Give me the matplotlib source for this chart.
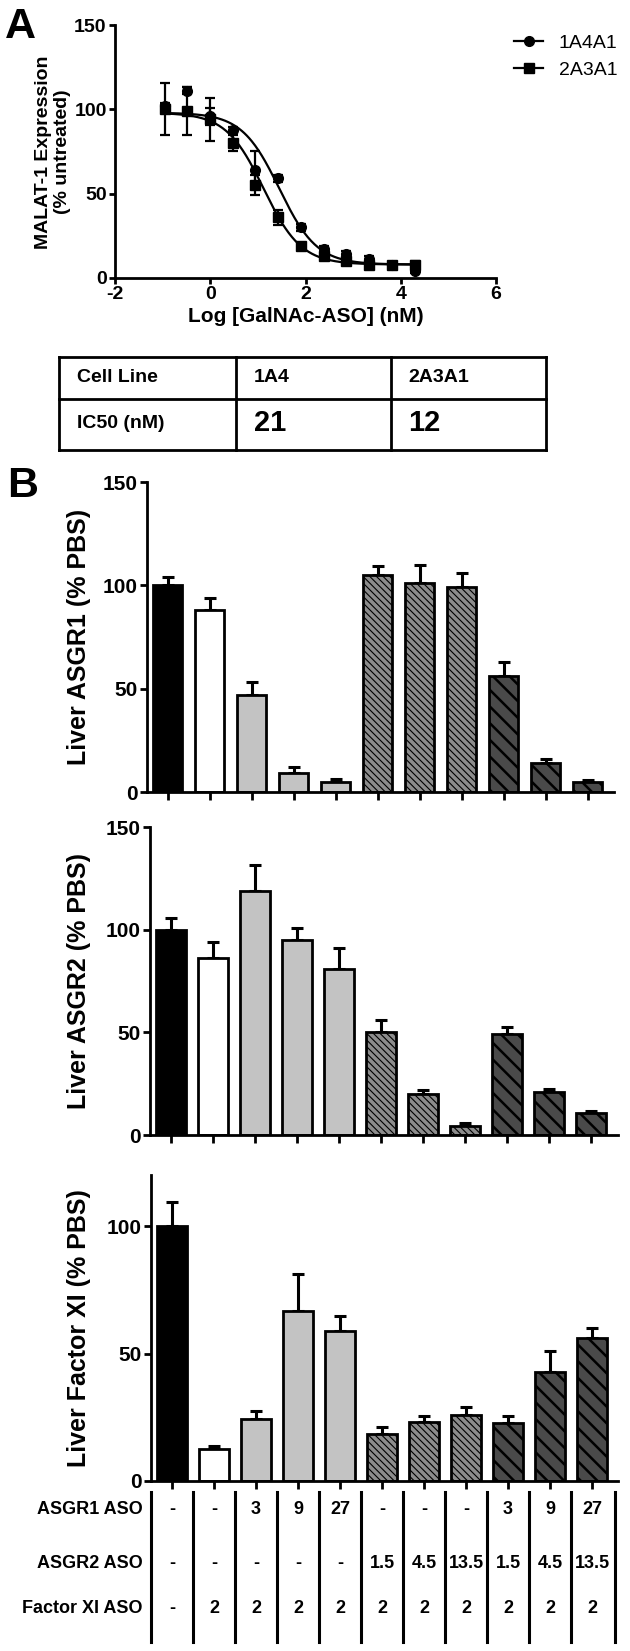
import numpy as np
import matplotlib.pyplot as plt
from matplotlib.lines import Line2D
from matplotlib.transforms import blended_transform_factory

plt.rcParams['font.family'] = ['Liberation Sans', 'DejaVu Sans']
plt.rcParams['font.weight'] = 'bold'
plt.rcParams['axes.unicode_minus'] = False

W, H = 630, 1651

# ---- panel A: MALAT-1 dose response
log_conc = [-0.95, -0.48, 0.0, 0.48, 0.95, 1.43, 1.91, 2.39, 2.86, 3.34, 3.82, 4.29]
mal_1a4a1 = [102, 111, 96, 88, 64, 59, 30, 17, 14, 11, 8, 4]
mal_1a4a1_err = [2, 2, 5, 1.5, 11, 2, 2, 2, 2, 2, 1, 1]
mal_2a3a1 = [100, 99, 94, 80, 55, 36, 19, 13, 10, 8, 8, 8]
mal_2a3a1_err = [15.5, 14, 13, 5, 6, 4.5, 2, 2, 2, 2, 1, 2]
series_names = ['1A4A1', '2A3A1']

# 4-parameter logistic fits (top, bottom, logIC50, hill)
fit_params = [(98, 8, 1.45, 1.1), (98, 8, 1.12, 1.1)]

table_header = ['Cell Line', '1A4', '2A3A1']
table_ic50 = ['IC50 (nM)', '21', '12']

# ---- panel B: liver mRNA (% PBS)
asgr1_vals = [100, 88, 47, 9, 5, 105, 101, 99, 56, 14, 5]
asgr1_err = [4, 6, 6, 3, 1.5, 4.5, 9, 7, 7, 2, 0.8]
asgr2_vals = [100, 86, 119, 95, 81, 50, 20, 4.5, 49, 21, 10.5]
asgr2_err = [5.5, 8, 12.5, 6, 10, 6, 1.7, 1.2, 3.8, 1.4, 1.3]
fxi_vals = [100, 12.6, 24.4, 66.6, 59, 18.4, 23, 25.7, 22.7, 42.9, 56.2]
fxi_err = [9.5, 1.3, 3.1, 14.6, 5.8, 2.6, 2.6, 3.5, 2.6, 8.1, 3.8]

row_names = ['ASGR1 ASO', 'ASGR2 ASO', 'Factor XI ASO']
asgr1_dose = ['-', '-', '3', '9', '27', '-', '-', '-', '3', '9', '27']
asgr2_dose = ['-', '-', '-', '-', '-', '1.5', '4.5', '13.5', '1.5', '4.5', '13.5']
fxi_dose = ['-', '2', '2', '2', '2', '2', '2', '2', '2', '2', '2']

# bar styles
bar_faces = ['black', 'white'] + ['#c3c3c3'] * 3 + ['#8c8c8c'] * 3 + ['#4a4a4a'] * 3
bar_hatches = [None, None, None, None, None] + ['\\\\\\\\\\'] * 3 + ['\\\\'] * 3
hatch_lws = [1, 1, 1, 1, 1] + [0.8] * 3 + [1.8] * 3


def add_axes_px(left, top, right, bottom):
    return fig.add_axes([left / W, 1 - bottom / H, (right - left) / W, (bottom - top) / H])


def fx(px):
    return px / W


def fy(py):
    return 1 - py / H


fig = plt.figure(figsize=(6.3, 16.51), dpi=100)

# ================= Panel A =================
axA = add_axes_px(115, 25, 496, 278)
xs = np.linspace(min(log_conc), max(log_conc), 300)
for (top, bot, lic, hill) in fit_params:
    axA.plot(xs, bot + (top - bot) / (1 + 10 ** ((xs - lic) * hill)), color='black', lw=1.6, zorder=2)
axA.errorbar(log_conc, mal_1a4a1, yerr=mal_1a4a1_err, fmt='o', color='black', ms=7,
             capsize=3.5, elinewidth=1.6, capthick=1.6, zorder=3)
axA.errorbar(log_conc, mal_2a3a1, yerr=mal_2a3a1_err, fmt='s', color='black', ms=6.5,
             capsize=3.5, elinewidth=1.6, capthick=1.6, zorder=3)
axA.set_xlim(-2, 6)
axA.set_ylim(0, 150)
axA.set_xticks([-2, 0, 2, 4, 6])
axA.set_yticks([0, 50, 100, 150])
for s in ['top', 'right']:
    axA.spines[s].set_visible(False)
for s in ['left', 'bottom']:
    axA.spines[s].set_linewidth(2)
axA.tick_params(direction='out', length=4, width=2, labelsize=14, pad=2)
axA.set_xlabel('Log [GalNAc-ASO] (nM)', fontsize=15, fontweight='bold', labelpad=3)
fig.text(fx(53), fy(152), 'MALAT-1 Expression\n(% untreated)', rotation=90, ha='center',
         va='center', fontsize=14, fontweight='bold', multialignment='center', linespacing=1.1)

handles = [Line2D([], [], color='black', marker='o', lw=1.6, ms=7),
           Line2D([], [], color='black', marker='s', lw=1.6, ms=6.5)]
fig.legend(handles, series_names, loc='upper left', bbox_to_anchor=(fx(514), fy(34)),
           frameon=False, prop={'size': 14, 'weight': 'normal'}, handlelength=1.5,
           handletextpad=0.8, labelspacing=0.5, borderpad=0, borderaxespad=0)

fig.text(fx(5), fy(38), 'A', fontsize=31, fontweight='bold', va='baseline')

# IC50 table
tl, tr, tt, tb = 58.6, 546, 357, 450
row_div = 399
col_divs = [236, 391]
for x0, y0, x1, y1 in [(tl, tt, tr, tt), (tl, tb, tr, tb), (tl, tt, tl, tb), (tr, tt, tr, tb),
                       (tl, row_div, tr, row_div)] + [(c, tt, c, tb) for c in col_divs]:
    fig.add_artist(Line2D([fx(x0), fx(x1)], [fy(y0), fy(y1)], color='black', lw=2))
col_text_x = [77, 254, 408]
for i, txt in enumerate(table_header):
    fig.text(fx(col_text_x[i]), fy(378), txt, fontsize=14, fontweight='bold', va='center')
for i, txt in enumerate(table_ic50):
    fig.text(fx(col_text_x[i]), fy(423), txt, fontsize=14 if i == 0 else 21,
             fontweight='bold', va='center')

fig.text(fx(7), fy(497), 'B', fontsize=31, fontweight='bold', va='baseline')


# ================= Panel B =================
def bar_panel(ax, vals, errs, ymax, ylabel, label_y):
    x = np.arange(len(vals))
    ax.errorbar(x, vals, yerr=[np.zeros(len(errs)), errs], fmt='none', ecolor='black',
                elinewidth=2.2, capsize=4.5, capthick=2.2, zorder=1)
    for i, v in enumerate(vals):
        with plt.rc_context({'hatch.linewidth': hatch_lws[i]}):
            b = ax.bar(i, v, width=0.7, color=bar_faces[i], edgecolor='black', linewidth=2,
                       hatch=bar_hatches[i], zorder=2)
        if hasattr(b[0], 'set_hatch_linewidth'):
            b[0].set_hatch_linewidth(hatch_lws[i])
    ax.set_ylim(0, ymax)
    ax.set_yticks([0, 50, 100, 150] if ymax >= 150 else [0, 50, 100])
    ax.set_xticks(x)
    ax.set_xticklabels([])
    for s in ['top', 'right']:
        ax.spines[s].set_visible(False)
    for s in ['left', 'bottom']:
        ax.spines[s].set_linewidth(2)
    ax.tick_params(axis='y', direction='out', length=5, width=2, labelsize=15, pad=2)
    ax.tick_params(axis='x', direction='out', length=6, width=2)
    fig.text(fx(79), fy(label_y), ylabel, rotation=90, ha='center', va='center',
             fontsize=18, fontweight='bold')


ax1 = add_axes_px(147, 482, 614, 792)
bar_panel(ax1, asgr1_vals, asgr1_err, 150, 'Liver ASGR1 (% PBS)', 637)
ax1.set_xlim(-0.49, 10.63)

ax2 = add_axes_px(150, 827, 618, 1135)
bar_panel(ax2, asgr2_vals, asgr2_err, 150, 'Liver ASGR2 (% PBS)', 981)
ax2.set_xlim(-0.5, 10.64)

ax3 = add_axes_px(151, 1175, 618, 1481)
bar_panel(ax3, fxi_vals, fxi_err, 120, 'Liver Factor XI (% PBS)', 1328)
ax3.set_xlim(-0.5, 10.62)

# treatment table under the last panel
trans = blended_transform_factory(ax3.transData, fig.transFigure)
line_x = [-0.5] + [i + 0.5 for i in range(10)] + [10.55]
for lx in line_x:
    ax3.add_line(Line2D([lx, lx], [fy(1492), fy(1642)], transform=trans, color='black',
                        lw=2.2, clip_on=False))
row_y = [1510, 1563, 1608]
for r, (name, doses) in enumerate(zip(row_names, [asgr1_dose, asgr2_dose, fxi_dose])):
    fig.text(fx(143), fy(row_y[r]), name, ha='right', va='center', fontsize=13, fontweight='bold')
    for i, d in enumerate(doses):
        ax3.text(i, fy(row_y[r]), d, transform=trans, ha='center', va='center',
                 fontsize=13, fontweight='bold', clip_on=False)

fig.savefig('out.png', dpi=100)
